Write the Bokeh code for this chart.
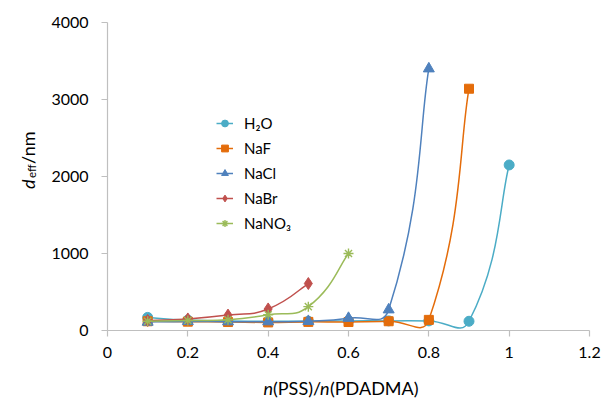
import numpy as np
from bokeh.plotting import figure
from bokeh.models import Range1d, FixedTicker, Label, Legend, LegendItem, ColumnDataSource
from bokeh.embed import file_html
from bokeh.resources import INLINE

# --- data -----------------------------------------------------------------
ratio = [0.1, 0.2, 0.3, 0.4, 0.5, 0.6, 0.7, 0.8, 0.9, 1.0]

d_h2o = [170, 135, 125, 120, 120, 125, 125, 125, 120, 2150]
d_naf = [120, 115, 110, 105, 112, 110, 120, 138, 3140]
d_nacl = [110, 118, 115, 115, 120, 160, 270, 3400]
d_nabr = [130, 150, 200, 280, 610]
d_nano3 = [120, 130, 140, 205, 310, 1000]

series_names = ["H\u2082O", "NaF", "NaCl", "NaBr", "NaNO\u2083"]
series_values = [d_h2o, d_naf, d_nacl, d_nabr, d_nano3]
series_colors = ["#4BACC6", "#E46C0A", "#4F81BD", "#C0504D", "#9BBB59"]
series_markers = ["circle", "square", "triangle", "diamond", "asterisk"]
series_sizes = [10, 9, 11, 12, 10]

x_ticks = [0, 0.2, 0.4, 0.6, 0.8, 1.0, 1.2]
x_tick_labels = ["0", "0.2", "0.4", "0.6", "0.8", "1", "1.2"]
y_ticks = [0, 1000, 2000, 3000, 4000]
y_tick_labels = ["0", "1000", "2000", "3000", "4000"]

# --- layout ---------------------------------------------------------------
W, H = 604, 398
# pixel box of the plotting area (axes drawn at x=0 and y=0)
AREA_L, AREA_R, AREA_T, AREA_B = 107, 589, 22, 330
AREA_W = AREA_R - AREA_L
AREA_H = AREA_B - AREA_T
X_MAX, Y_MAX = 1.2, 4000
FONT = "Lato"


def px_to_x(px):
    return (px - AREA_L) / AREA_W * X_MAX


def py_to_y(py):
    return (AREA_B - py) / AREA_H * Y_MAX


def smooth_segments(xs, ys, tension=0.5):
    """Cubic Bezier control points for a smoothed line through the points,
    computed in screen proportions with chord-length weighting."""
    sx = np.asarray(xs, float) / X_MAX * AREA_W
    sy = np.asarray(ys, float) / Y_MAX * AREA_H
    pts = np.column_stack([sx, sy])
    n = len(pts)
    d = np.hypot(np.diff(sx), np.diff(sy))
    tang = np.zeros_like(pts)
    for i in range(n):
        tang[i] = pts[min(i + 1, n - 1)] - pts[max(i - 1, 0)]
    c0, c1 = [], []
    for i in range(n - 1):
        dl = d[i - 1] if i > 0 else d[i]
        dr = d[i + 1] if i + 1 < n - 1 else d[i]
        w0 = tension * d[i] / (dl + d[i])
        w1 = tension * d[i] / (d[i] + dr)
        if i == 0:
            w0 = tension * 0.5
        if i == n - 2:
            w1 = tension * 0.5
        c0.append(pts[i] + tang[i] * w0)
        c1.append(pts[i + 1] - tang[i + 1] * w1)
    c0 = np.array(c0)
    c1 = np.array(c1)
    to_x = X_MAX / AREA_W
    to_y = Y_MAX / AREA_H
    return dict(
        x0=list(sx[:-1] * to_x), y0=list(sy[:-1] * to_y),
        x1=list(sx[1:] * to_x), y1=list(sy[1:] * to_y),
        cx0=list(c0[:, 0] * to_x), cy0=list(c0[:, 1] * to_y),
        cx1=list(c1[:, 0] * to_x), cy1=list(c1[:, 1] * to_y),
    )


p = figure(
    width=W, height=H,
    x_range=Range1d(px_to_x(0), px_to_x(W)),
    y_range=Range1d(py_to_y(H), py_to_y(0)),
    min_border=0,
    output_backend="svg", toolbar_location=None,
)
p.outline_line_color = None
p.grid.visible = False
p.background_fill_color = "white"
p.border_fill_color = "white"

# axes fixed at the origin so the titles can sit freely around them
for ax in (p.xaxis[0], p.yaxis[0]):
    ax.fixed_location = 0
    ax.axis_line_color = "#BFBFBF"
    ax.axis_line_width = 1.2
    ax.major_tick_line_color = "#BFBFBF"
    ax.major_tick_line_width = 1.2
    ax.major_tick_in = 0
    ax.major_tick_out = 6
    ax.minor_tick_line_color = None
    ax.major_label_text_font = FONT
    ax.major_label_text_font_size = "16px"
    ax.major_label_text_color = "#000000"

p.xaxis.bounds = (0, X_MAX)
p.xaxis.ticker = FixedTicker(ticks=x_ticks)
p.xaxis.major_label_overrides = dict(zip(x_ticks, x_tick_labels))
p.xaxis.major_label_standoff = 10
p.yaxis.bounds = (0, Y_MAX)
p.yaxis.ticker = FixedTicker(ticks=y_ticks)
p.yaxis.major_label_overrides = dict(zip(y_ticks, y_tick_labels))
p.yaxis.major_label_standoff = 13

# series: smoothed line plus markers
items = []
for name, vals, col, mk, sz in zip(series_names, series_values, series_colors,
                                   series_markers, series_sizes):
    xs = ratio[:len(vals)]
    seg = ColumnDataSource(smooth_segments(xs, vals))
    line_r = p.bezier(x0="x0", y0="y0", x1="x1", y1="y1",
                      cx0="cx0", cy0="cy0", cx1="cx1", cy1="cy1",
                      source=seg, line_color=col, line_width=1.5)
    pts = ColumnDataSource(dict(x=xs, y=vals))
    if mk == "asterisk":
        mark_r = p.scatter("x", "y", source=pts, marker=mk, size=sz,
                           line_color=col, line_width=1.4)
    else:
        mark_r = p.scatter("x", "y", source=pts, marker=mk, size=sz,
                           fill_color=col, line_color=col, line_width=1)
    items.append(LegendItem(label=name, renderers=[line_r, mark_r]))

legend = Legend(
    items=items, location=(216, 165),
    padding=0, margin=0, spacing=5,
    glyph_width=17, glyph_height=20, label_height=20,
    label_standoff=11,
    label_text_font=FONT, label_text_font_size="15px",
    label_text_color="#000000",
    background_fill_alpha=0, border_line_color=None,
)
p.add_layout(legend, "center")

# x axis title: n(PSS)/n(PDADMA)
title_base = dict(x_units="data", y_units="data", text_font=FONT,
                  text_font_size="18px", text_color="#000000",
                  text_align="left")
xt = dict(title_base, text_baseline="middle")
xb = py_to_y(387.5)
p.add_layout(Label(x=px_to_x(263), y=xb, text="n", text_font_style="italic", **xt))
p.add_layout(Label(x=px_to_x(272.5), y=xb, text="(PSS)/", **xt))
p.add_layout(Label(x=px_to_x(319.5), y=xb, text="n", text_font_style="italic", **xt))
p.add_layout(Label(x=px_to_x(329.5), y=xb, text="(PDADMA)", **xt))

# y axis title: d_eff/nm, rotated
rot = dict(title_base, text_baseline="alphabetic", angle=np.pi / 2, angle_units="rad")
p.add_layout(Label(x=px_to_x(27), y=py_to_y(188.5), text="d", text_font_style="italic", **rot))
sub = dict(rot, text_font_size="11.5px")
p.add_layout(Label(x=px_to_x(30.5), y=py_to_y(177.5), text="eff", **sub))
p.add_layout(Label(x=px_to_x(27), y=py_to_y(163.5), text="/nm", **rot))

open("out.html", "w").write(file_html(p, INLINE))
